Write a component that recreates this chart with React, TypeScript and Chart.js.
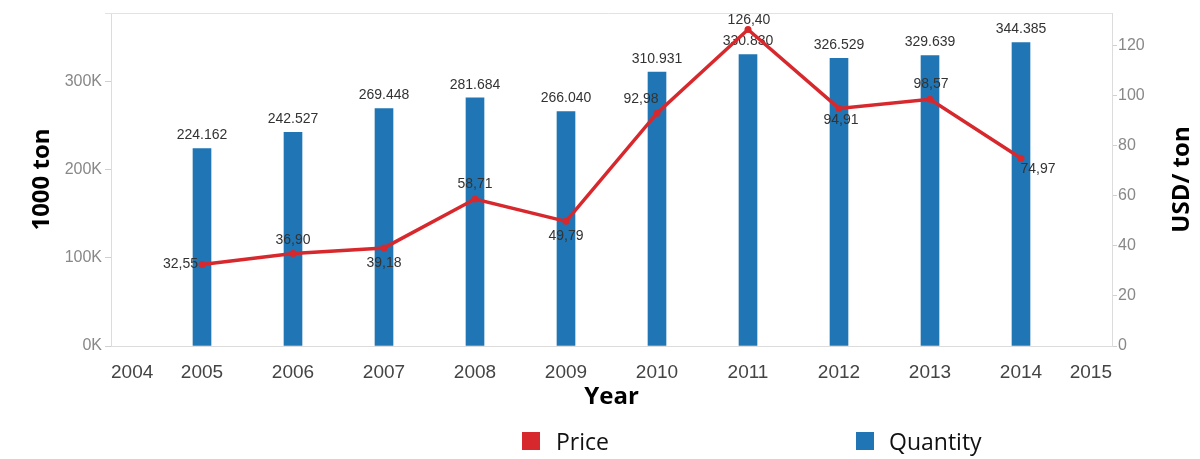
import React, { useEffect, useRef } from 'react';
import { Chart, registerables } from 'chart.js';

Chart.register(...registerables);

const YEARS = ['2004', '2005', '2006', '2007', '2008', '2009', '2010', '2011', '2012', '2013', '2014', '2015'];
const QUANTITY = [null, 224162, 242527, 269448, 281684, 266040, 310931, 330830, 326529, 329639, 344385, null];
const PRICE = [null, 32.55, 36.9, 39.18, 58.71, 49.79, 92.98, 126.4, 94.91, 98.57, 74.97, null];
const QUANTITY_TICKS = [0, 100000, 200000, 300000];
const PRICE_TICKS = [0, 20, 40, 60, 80, 100, 120];
// label placement around each price point (dx, dy in px)
const PRICE_LABEL_DX = [0, -20, 0, 0, 0, 0, -16, 1, 2, 1, 17, 0];
const PRICE_LABEL_DY = [0, 0, -13, 15, -15, 15, -14, -9, 12, -15, 11, 0];

const BLUE = '#2076b4';
const RED = '#d7282d';
const TICK_FONT = 'Liberation Sans, Arial, sans-serif';
const TITLE_FONT = 'Open Sans, sans-serif';

const labelPlugin = {
  id: 'valueLabels',
  afterDatasetDraw(chart: any, args: any) {
    if (args.index !== 1) return;
    const ctx = chart.ctx;
    const meta = chart.getDatasetMeta(1);
    ctx.save();
    ctx.font = `14px ${TICK_FONT}`;
    ctx.fillStyle = '#333';
    ctx.textAlign = 'center';
    ctx.textBaseline = 'middle';
    meta.data.forEach((el: any, i: number) => {
      const v = QUANTITY[i];
      if (v == null) return;
      ctx.fillText((v / 1000).toFixed(3), el.x, el.y - 13);
    });
    ctx.restore();
  },
  afterDatasetsDraw(chart: any) {
    const ctx = chart.ctx;
    const meta = chart.getDatasetMeta(0);
    ctx.save();
    ctx.font = `14px ${TICK_FONT}`;
    ctx.fillStyle = '#333';
    ctx.textBaseline = 'middle';
    meta.data.forEach((el: any, i: number) => {
      const v = PRICE[i];
      if (v == null) return;
      ctx.textAlign = i === 1 ? 'right' : 'center';
      const dx = i === 1 ? -4 : PRICE_LABEL_DX[i];
      ctx.fillText(v.toFixed(2).replace('.', ','), el.x + dx, el.y + PRICE_LABEL_DY[i]);
    });
    ctx.restore();
  },
  beforeDatasetsDraw(chart: any) {
    const { ctx, chartArea } = chart;
    ctx.save();
    ctx.strokeStyle = '#e2e2e2';
    ctx.lineWidth = 1;
    ctx.beginPath();
    ctx.moveTo(chartArea.left - 6, chartArea.top + 0.5);
    ctx.lineTo(chartArea.right, chartArea.top + 0.5);
    ctx.stroke();
    // right axis title, reading bottom-to-top like the left one
    const y1 = chart.scales.y1;
    ctx.translate(y1.right - 18, (chartArea.top + chartArea.bottom) / 2);
    ctx.rotate(-Math.PI / 2);
    ctx.font = `bold 24px ${TITLE_FONT}`;
    ctx.fillStyle = '#000';
    ctx.textAlign = 'center';
    ctx.textBaseline = 'middle';
    ctx.fillText('USD/ ton', 0, 0);
    ctx.restore();
  },
};

export default function App() {
  const ref = useRef<HTMLCanvasElement | null>(null);

  useEffect(() => {
    document.body.style.margin = '0';
    const canvas = ref.current;
    if (!canvas) return;
    const chart = new Chart(canvas, {
      type: 'bar',
      data: {
        labels: YEARS,
        datasets: [
          {
            type: 'line',
            label: 'Price',
            data: PRICE as any,
            yAxisID: 'y1',
            borderColor: RED,
            backgroundColor: RED,
            borderWidth: 3.5,
            pointRadius: 3.5,
            pointBackgroundColor: RED,
            pointBorderWidth: 0,
            order: 0,
            spanGaps: false,
          },
          {
            type: 'bar',
            label: 'Quantity',
            data: QUANTITY as any,
            yAxisID: 'y',
            backgroundColor: BLUE,
            barThickness: 18,
            order: 1,
          },
        ],
      },
      options: {
        responsive: false,
        animation: false,
        layout: { padding: { top: 13, left: 0, right: 0, bottom: 43 } },
        plugins: { legend: { display: false }, tooltip: { enabled: false } },
        scales: {
          x: {
            type: 'category',
            offset: false,
            grid: { display: false },
            border: { display: true, color: '#dcdcdc' },
            ticks: {
              align: 'inner',
              autoSkip: false,
              maxRotation: 0,
              padding: 7,
              color: '#444',
              font: { family: TICK_FONT, size: 19 },
            },
            title: {
              display: true,
              text: 'Year',
              color: '#000',
              font: { family: TITLE_FONT, size: 24, weight: 'bold' },
              padding: { top: 0, bottom: 4 },
            },
            afterFit(scale: any) {
              scale.height = 70;
            },
          },
          y: {
            position: 'left',
            min: 0,
            max: 378000,
            grid: { drawOnChartArea: false, drawTicks: true, tickLength: 6, color: '#d0d0d0' },
            border: { display: true, color: '#dcdcdc' },
            ticks: {
              padding: 3,
              color: '#888',
              font: { family: TICK_FONT, size: 16 },
              callback: (v: any) => `${Number(v) / 1000}K`,
            },
            afterBuildTicks(scale: any) {
              scale.ticks = QUANTITY_TICKS.map((value) => ({ value }));
            },
            title: {
              display: true,
              text: '1000 ton',
              color: '#000',
              font: { family: TITLE_FONT, size: 24, weight: 'bold' },
              padding: { top: 28, bottom: 0 },
            },
            afterFit(scale: any) {
              scale.width = 111;
            },
          },
          y1: {
            position: 'right',
            min: 0,
            max: 133,
            grid: { drawOnChartArea: false, drawTicks: true, tickLength: 5, color: '#d0d0d0' },
            border: { display: true, color: '#dcdcdc' },
            ticks: {
              padding: 1,
              color: '#888',
              font: { family: TICK_FONT, size: 16 },
            },
            afterBuildTicks(scale: any) {
              scale.ticks = PRICE_TICKS.map((value) => ({ value }));
            },
            afterFit(scale: any) {
              scale.width = 88;
            },
          },
        },
      } as any,
      plugins: [labelPlugin],
    });
    return () => chart.destroy();
  }, []);

  const legendText: React.CSSProperties = {
    position: 'absolute',
    top: 425,
    fontFamily: TITLE_FONT,
    fontSize: 23,
    lineHeight: '32px',
    color: '#111',
  };
  const sq: React.CSSProperties = { position: 'absolute', top: 432, width: 18, height: 18 };

  return (
    <div style={{ position: 'relative', width: 1200, height: 459, background: '#fff' }}>
      <canvas ref={ref} width={1200} height={459} style={{ display: 'block' }} />
      <div style={{ ...sq, left: 522, background: RED }} />
      <div style={{ ...legendText, left: 556 }}>Price</div>
      <div style={{ ...sq, left: 856, background: BLUE }} />
      <div style={{ ...legendText, left: 889 }}>Quantity</div>
    </div>
  );
}
